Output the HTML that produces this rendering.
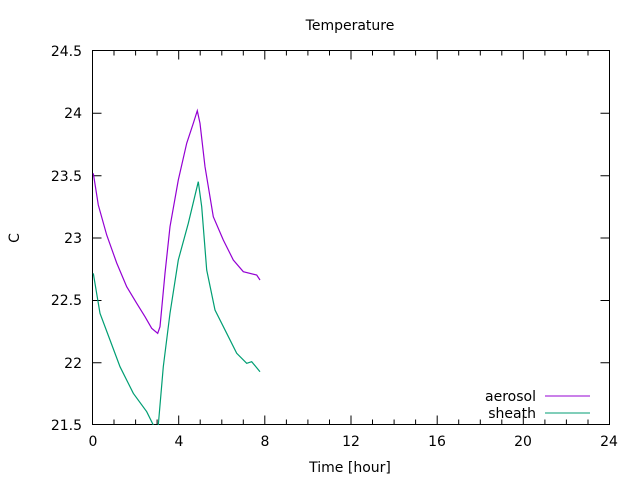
<!DOCTYPE html>
<html><head><meta charset="utf-8"><style>body{margin:0;background:#fff}svg{display:block}text{font-family:"DejaVu Sans","Liberation Sans",sans-serif;font-size:14px;fill:#000}</style></head><body>
<svg width="640" height="480" viewBox="0 0 640 480">
<rect x="92.5" y="50.5" width="517" height="374" fill="none" stroke="#000" stroke-width="1"/>
<g stroke="#000" stroke-width="1">
<path d="M92.5 424.5v-9M178.7 424.5v-9M264.8 424.5v-9M351 424.5v-9M437.2 424.5v-9M523.3 424.5v-9M92.5 50.5v9M178.7 50.5v9M264.8 50.5v9M351 50.5v9M437.2 50.5v9M523.3 50.5v9"/>
<path d="M114 424.5v-5M135.6 424.5v-5M157.1 424.5v-5M200.2 424.5v-5M221.8 424.5v-5M243.3 424.5v-5M286.4 424.5v-5M307.9 424.5v-5M329.5 424.5v-5M372.5 424.5v-5M394.1 424.5v-5M415.6 424.5v-5M458.7 424.5v-5M480.3 424.5v-5M501.8 424.5v-5M544.9 424.5v-5M566.4 424.5v-5M588 424.5v-5"/>
<path d="M114 50.5v5M135.6 50.5v5M157.1 50.5v5M200.2 50.5v5M221.8 50.5v5M243.3 50.5v5M286.4 50.5v5M307.9 50.5v5M329.5 50.5v5M372.5 50.5v5M394.1 50.5v5M415.6 50.5v5M458.7 50.5v5M480.3 50.5v5M501.8 50.5v5M544.9 50.5v5M566.4 50.5v5M588 50.5v5"/>
<path d="M92.5 113.3h9M92.5 175.7h9M92.5 238h9M92.5 300.5h9M92.5 362.8h9M609.5 113.3h-9M609.5 175.7h-9M609.5 238h-9M609.5 300.5h-9M609.5 362.8h-9"/>
</g>
<g text-anchor="end">
<text x="82" y="56">24.5</text><text x="82" y="118">24</text><text x="82" y="181">23.5</text><text x="82" y="243">23</text><text x="82" y="305">22.5</text><text x="82" y="368">22</text><text x="82" y="430">21.5</text>
</g>
<g text-anchor="middle">
<text x="93" y="446">0</text><text x="179" y="446">4</text><text x="265" y="446">8</text><text x="351" y="446">12</text><text x="437" y="446">16</text><text x="523" y="446">20</text><text x="609" y="446">24</text>
<text x="350" y="472">Time [hour]</text>
<text x="350" y="30">Temperature</text>
<text x="0" y="0" transform="translate(19,238) rotate(-90)">C</text>
</g>
<text x="536" y="401" text-anchor="end">aerosol</text>
<text x="536" y="418" text-anchor="end">sheath</text>
<path d="M545 396h45" stroke="#9400d3"/>
<path d="M545 413h45" stroke="#009e73"/>
<svg x="92" y="50" width="518" height="375" overflow="hidden">
<g transform="translate(-92,-50)" fill="none" stroke-width="1.2">
<polyline stroke="#9400d3" points="93.3,173.3 98.3,205 106.7,235 116.7,263 126.7,286.7 136.7,303.3 145,316.7 151.7,328.3 157.7,333.3 160,326.7 165,273.3 170,226.7 178.3,180 186.7,143.3 193.3,123.3 197.3,110.7 200,123.3 205,166.7 213.3,216.7 223.3,240 233.3,260 243.3,271.7 256.7,275 260,280"/>
<polyline stroke="#009e73" points="93.3,273.3 100,313.3 110,340 120,366.7 133.3,393.3 146.7,411.7 153.3,425 156,430 158.3,425 163.3,366.7 170,313.3 178.3,260 188.3,223.3 198.3,181.7 201.7,206.7 206.7,270 215,310 226.7,333.3 236.7,353.3 246.7,363.3 251.7,361.7 260,371.7"/>
</g>
</svg>
</svg>
</body></html>
